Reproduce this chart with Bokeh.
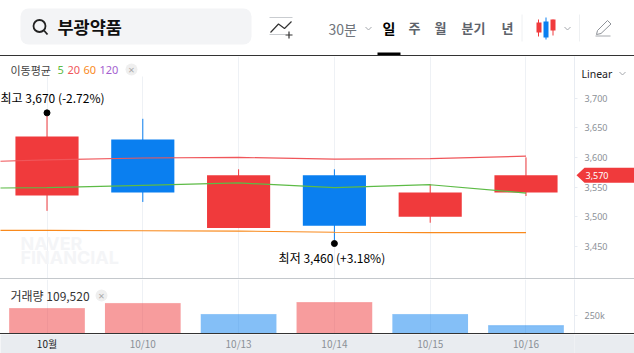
from bokeh.plotting import figure
from bokeh.layouts import column
from bokeh.models import (Range1d, FixedTicker, NumeralTickFormatter, BoxAnnotation, Div, ColumnDataSource)
from bokeh.core.properties import value
from bokeh.embed import file_html
from bokeh.resources import INLINE

# ---- data ----
dates = ["10월", "10/10", "10/13", "10/14", "10/15", "10/16"]
opens = [3536, 3630, 3481, 3570, 3500, 3541]
closes = [3635, 3541, 3570, 3485, 3541, 3570]
highs = [3670, 3665, 3580, 3580, 3555, 3600]
lows = [3510, 3525, 3481, 3460, 3490, 3535]
volumes = [347000, 417000, 264000, 430000, 264000, 109520]
volume_up = [True, True, False, True, False, False]
ma_x = [-1, 0, 1, 2, 3, 4, 5]
ma5 = [3548, 3549, 3553, 3557, 3549, 3554, 3540]
ma20 = [3591, 3596, 3599, 3600, 3597, 3598, 3602]
ma60 = [3477, 3477, 3476.5, 3476, 3474, 3473.5, 3473.5]
price_ticks = [3450, 3500, 3550, 3600, 3650, 3700]
volume_ticks = [250000]
last_price = 3570
last_volume = 109520

RED = "#f03a3c"
BLUE = "#0a7ff0"
GRID = "#eef1f5"
AXC = "#e8ecf2"
TICK = "#8b9097"
KR = value("Noto Sans CJK KR")
NS = value("Noto Sans")
x_rng = (-0.4854, 5.5063)
price_rng = (3396.1, 3769.9)


def clean(p):
    p.outline_line_color = None
    p.border_fill_color = "white"
    p.min_border_left = 0
    p.min_border_right = 0
    p.min_border_top = 0
    p.min_border_bottom = 0


def rule(color):
    return Div(width=634, height=1, margin=0, styles={"background": color, "overflow": "hidden"})


# ---- header ----
h = figure(width=634, height=55, x_range=Range1d(0, 634), y_range=Range1d(55, 0),
           output_backend="svg", toolbar_location=None, x_axis_location=None, y_axis_location=None,
           styles={"position": "absolute", "left": "0px", "top": "0px"})
clean(h)
h.grid.visible = False
h.add_layout(BoxAnnotation(left=20, right=251, top=8, bottom=44, fill_color="#f3f4f6", fill_alpha=1,
                           line_color=None, border_radius=8, level="underlay"))
h.circle([39], [25.5], radius=6, fill_color=None, line_color="#222222", line_width=1.8)
h.line([43.5, 47], [30, 34], line_color="#222222", line_width=1.8)
h.text([57], [26], text=["부광약품"], text_font=KR, text_font_style="bold", text_font_size="17.5px",
       text_color="#111111", text_baseline="middle")
h.line([269, 292], [17, 17], line_color="#c9ccd0", line_width=1)
h.line([269, 285], [34, 34], line_color="#c9ccd0", line_width=1)
h.line([270, 278, 284, 291], [32, 23.5, 28, 21], line_color="#333333", line_width=1.2)
h.line([285, 292], [34.5, 34.5], line_color="#333333", line_width=1.2)
h.line([288.5, 288.5], [31, 38], line_color="#333333", line_width=1.2)
h.text([328], [28], text=["30분"], text_font=KR, text_font_size="14px", text_color="#70757c", text_baseline="middle")
for cx in (368, 567):
    h.line([cx - 3, cx, cx + 3], [26.5, 29.5, 26.5], line_color="#a5a8ad", line_width=1)
h.text([382], [27], text=["일"], text_font=KR, text_font_style="bold", text_font_size="14px",
       text_color="#000000", text_baseline="middle")
h.text([408, 434, 461, 501], [27, 27, 27, 27], text=["주", "월", "분기", "년"], text_font=KR,
       text_font_style="bold", text_font_size="13px", text_color="#5d636b", text_baseline="middle")
h.quad(left=[377], right=[400], top=[52], bottom=[55], fill_color="#000000", line_color=None)
for sx in (521.5, 579):
    h.line([sx, sx], [14, 41], line_color="#eef0f2", line_width=1)
h.line([538, 538], [19, 36], line_color=RED, line_width=1)
h.quad(left=[536], right=[541], top=[22], bottom=[32], fill_color=RED, line_color=None)
h.line([545.5, 545.5], [17, 39], line_color=BLUE, line_width=1)
h.quad(left=[543], right=[548], top=[21], bottom=[37], fill_color=BLUE, line_color=None)
h.line([552.5, 552.5], [19, 35], line_color=RED, line_width=1)
h.quad(left=[550], right=[555], top=[19], bottom=[30], fill_color=RED, line_color=None)
h.line([597, 607, 610.5, 600.5, 596, 597], [30, 20, 23.5, 33, 34, 30], line_color="#8e9298", line_width=1)
h.line([595, 610], [35.5, 35.5], line_color="#a5a8ad", line_width=1)

# ---- price pane ----
p = figure(width=634, height=222, x_range=Range1d(*x_rng), y_range=Range1d(*price_rng),
           output_backend="svg", toolbar_location=None, x_axis_location=None, y_axis_location="right")
clean(p)
p.min_border_right = 60
p.extra_x_ranges = {"px": Range1d(0, 574)}
p.extra_y_ranges = {"py": Range1d(278, 56)}
p.ygrid.visible = False
p.xgrid.ticker = FixedTicker(ticks=list(range(len(dates))))
p.xgrid.grid_line_color = GRID
ax = p.yaxis[0]
ax.ticker = FixedTicker(ticks=price_ticks)
ax.formatter = NumeralTickFormatter(format="0,0")
ax.axis_line_color = AXC
ax.major_tick_line_color = AXC
ax.major_tick_in = 0
ax.major_tick_out = 3
ax.minor_tick_line_color = None
ax.major_label_standoff = 7
ax.major_label_text_font = "Noto Sans"
ax.major_label_text_font_size = "9px"
ax.major_label_text_color = TICK

idx = list(range(len(dates)))
cols = [RED if c >= o else BLUE for o, c in zip(opens, closes)]
src = ColumnDataSource(dict(x=idx, o=opens, c=closes, h=highs, l=lows, col=cols))
p.segment("x", "h", "x", "l", source=src, line_color="col", line_width=1)
p.vbar("x", 0.659, "o", "c", source=src, fill_color="col", line_color=None)
p.line(ma_x, ma20, line_color="#f0565a", line_width=1.2)
p.line(ma_x, ma5, line_color="#5dbb46", line_width=1.2)
p.line(ma_x, ma60, line_color="#f98a1d", line_width=1.2)

hi_i = highs.index(max(highs))
lo_i = lows.index(min(lows))
hi, lo = highs[hi_i], lows[lo_i]
p.scatter([hi_i], [hi + 5], size=6, color="#000000")
p.scatter([lo_i], [lo - 5], size=6, color="#000000")
hi_txt = f"최고 {hi:,} ({(last_price - hi) / hi * 100:+.2f}%)"
lo_txt = f"최저 {lo:,} ({(last_price - lo) / lo * 100:+.2f}%)"
p.text([hi_i], [hi], text=[hi_txt], text_font=KR, text_font_size="12px", text_color="#000000",
       text_align="center", text_baseline="middle", y_offset=-18, x_offset=5.5)
p.text([lo_i], [lo], text=[lo_txt], text_font=KR, text_font_size="12px", text_color="#000000",
       text_align="center", text_baseline="middle", y_offset=17, x_offset=-2.5)

# watermark
p.text([20, 20], [243, 257], text=["NAVER", "FINANCIAL"], x_range_name="px", y_range_name="py",
       text_font=value("Inter"), text_font_style="bold", text_font_size="18px", text_color="#f4f5f7",
       text_baseline="middle")
# moving average legend
p.quad(left=[0], right=[150], top=[56], bottom=[76], x_range_name="px", y_range_name="py",
       fill_color="white", line_color=None)
p.text([10], [69], text=["이동평균"], x_range_name="px", y_range_name="py", text_font=KR,
       text_font_size="11px", text_color="#444444", text_baseline="middle")
p.text([57, 67, 83, 99], [69] * 4, text=["5", "20", "60", "120"], x_range_name="px", y_range_name="py",
       text_font=NS, text_font_size="11px", text_color=["#5dbb46", "#f0565a", "#f98a1d", "#a55fd0"],
       text_baseline="middle")
p.circle([131], [69], radius=6, x_range_name="px", y_range_name="py", fill_color="#efefef", line_color=None)
p.text([131], [69], text=["×"], x_range_name="px", y_range_name="py", text_font=NS, text_font_size="11px",
       text_color="#aaaaaa", text_align="center", text_baseline="middle")

# ---- overlay over the price axis: scale selector and last price tag ----
o = figure(width=60, height=222, x_range=Range1d(574, 634), y_range=Range1d(*price_rng),
           output_backend="svg", toolbar_location=None, x_axis_location=None, y_axis_location=None,
           background_fill_color=None, border_fill_color=None,
           styles={"position": "absolute", "left": "574px", "top": "56px"})
o.outline_line_color = None
o.min_border_left = o.min_border_right = o.min_border_top = o.min_border_bottom = 0
o.grid.visible = False
half = 7.5 / 0.594
o.patch([576, 584, 634, 634, 584], [last_price, last_price + half, last_price + half, last_price - half, last_price - half],
        fill_color=RED, line_color=None)
o.text([585], [last_price], text=[f"{last_price:,}"], text_font=NS, text_font_size="9px", text_color="white",
       text_baseline="middle")
o.extra_y_ranges = {"py": Range1d(278, 56)}
o.text([581], [73], text=["Linear"], y_range_name="py", text_font=NS, text_font_size="10.5px",
       text_color="#222222", text_baseline="middle")
o.line([619, 622, 625], [71.5, 74.5, 71.5], y_range_name="py", line_color="#a5a8ad", line_width=1)

# ---- volume pane ----
v = figure(width=634, height=54, x_range=p.x_range, y_range=Range1d(0, 750000),
           output_backend="svg", toolbar_location=None, x_axis_location=None, y_axis_location="right")
clean(v)
v.min_border_right = 60
v.extra_x_ranges = {"px": Range1d(0, 574)}
v.extra_y_ranges = {"py": Range1d(333, 279)}
v.ygrid.visible = False
v.xgrid.ticker = FixedTicker(ticks=idx)
v.xgrid.grid_line_color = GRID
vx = v.yaxis[0]
vx.ticker = FixedTicker(ticks=volume_ticks)
vx.major_label_overrides = {250000: "250k"}
vx.axis_line_color = AXC
vx.major_tick_line_color = AXC
vx.major_tick_in = 0
vx.major_tick_out = 3
vx.minor_tick_line_color = None
vx.major_label_standoff = 7
vx.major_label_text_font = "Noto Sans"
vx.major_label_text_font_size = "9px"
vx.major_label_text_color = TICK
vcols = [RED if u else BLUE for u in volume_up]
vsrc = ColumnDataSource(dict(x=idx, t=volumes, col=vcols))
v.vbar("x", 0.79, "t", 0, source=vsrc, fill_color="col", fill_alpha=0.5, line_color=None)
v.segment(x0=[i - 0.395 for i in idx], x1=[i + 0.395 for i in idx], y0=volumes, y1=volumes, color=vcols,
          line_alpha=0.25, line_width=1)
v.text([10], [295], text=[f"거래량 {last_volume:,}"], x_range_name="px", y_range_name="py", text_font=KR,
       text_font_size="12px", text_color="#333333", text_baseline="middle")
v.circle([101], [295], radius=6, x_range_name="px", y_range_name="py", fill_color="#efefef", line_color=None)
v.text([101], [295], text=["×"], x_range_name="px", y_range_name="py", text_font=NS, text_font_size="11px",
       text_color="#aaaaaa", text_align="center", text_baseline="middle")

# ---- date strip ----
d = figure(width=634, height=19, x_range=p.x_range, y_range=Range1d(0, 1),
           output_backend="svg", toolbar_location=None, x_axis_location=None, y_axis_location=None,
           background_fill_color="#e9ecf0")
clean(d)
d.border_fill_color = "#e9ecf0"
d.min_border_right = 60
d.grid.visible = False
d.text(idx, [0.55] * 6, text=dates, text_font=KR, text_font_size="10px",
       text_color=["#222222"] + [TICK] * 5, text_align="center", text_baseline="middle")

root = column(rule("#333333"), p, rule("#c4c8cc"), v, rule("#333333"), d, spacing=0,
              styles={"position": "absolute", "left": "0px", "top": "55px"})

open("out.html", "w").write(file_html([root, h, o], INLINE))
